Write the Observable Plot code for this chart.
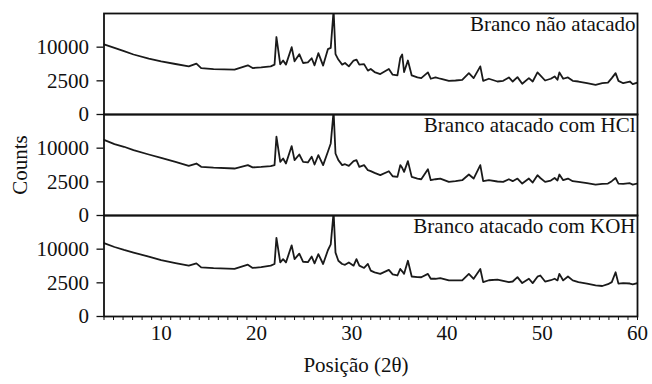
<!DOCTYPE html>
<html>
<head>
<meta charset="utf-8">
<script src="https://cdn.jsdelivr.net/npm/d3@7"></script>
<script src="https://cdn.jsdelivr.net/npm/@observablehq/plot@0.6"></script>
<style>
  html, body { margin: 0; padding: 0; background: #fff; }
  #chart { width: 652px; height: 384px; }
</style>
</head>
<body>
<div id="chart"></div>
<script>
const panels = ["Branco não atacado", "Branco atacado com HCl", "Branco atacado com KOH"];
const yTicks = [0, 2500, 10000];
const xTickLabels = [10, 20, 30, 40, 50, 60];
const yLabel = "Counts";
const xLabel = "Posição (2θ)";

const twoTheta = [
  4, 5.1, 6.1, 7.1, 8.7, 10, 11.5, 12.9, 13.7, 14.2,
  15.5, 17.7, 19.1, 19.6, 20.5, 21.5, 21.9, 22.1, 22.5, 22.8,
  23.1, 23.7, 24.0, 24.5, 24.9, 25.4, 25.8, 26.1, 26.5, 27.0,
  27.5, 27.8, 28.1, 28.3, 28.6, 29.0, 29.3, 29.7, 30.2, 30.5,
  30.8, 31.3, 31.7, 32.0, 32.4, 33.0, 33.9, 34.3, 34.8, 35.1,
  35.3, 35.5, 35.9, 36.3, 36.9, 37.3, 38.0, 38.3, 38.8, 39.3,
  40.2, 40.9, 41.6, 42.3, 42.8, 43.5, 43.8, 44.4, 45.3, 45.9,
  46.5, 46.9, 47.4, 47.9, 48.6, 49.0, 49.5, 49.8, 50.3, 50.9,
  51.3, 51.6, 51.8, 52.2, 52.7, 53.2, 53.8, 54.7, 55.6, 56.3,
  56.9, 57.3, 57.7, 58.0, 58.5, 59.2, 59.5, 60.0
];

const naoAtacado = [
  10840, 9800, 8840, 7940, 6900, 6250, 5625, 5120, 5720, 4760,
  4560, 4440, 5340, 4760, 4900, 5120, 5490, 13240, 5560, 6420,
  5490, 10000, 6250, 8020, 5850, 5990, 6980, 5340, 8290, 5270,
  9420, 9800, 24000, 8020, 6660, 5490, 5850, 5120, 6420, 6660,
  5490, 5600, 4240, 4560, 3970, 3600, 4560, 3490, 3370, 7060,
  7940, 3970, 6420, 3370, 3030, 2920, 3910, 2820, 3030, 2820,
  2500, 2550, 2660, 3780, 2920, 5120, 2500, 2820, 2400, 2500,
  3030, 2400, 3080, 2080, 2920, 2400, 3910, 3370, 2550, 2820,
  3200, 2660, 3910, 2820, 3030, 2500, 2400, 2160, 1940, 2160,
  2250, 2920, 3780, 2500, 2160, 2400, 2040, 2250
];

const atacadoHCl = [
  12600, 11250, 10420, 9440, 8210, 7340, 6350, 5440, 5960, 5220,
  5050, 4870, 5600, 5100, 5200, 5370, 5600, 13680, 6350, 7160,
  5960, 10630, 6760, 8210, 6350, 6200, 7600, 5730, 8040, 5600,
  8950, 11450, 24000, 8480, 6760, 5600, 5800, 5440, 6520, 6760,
  5220, 5600, 4530, 4330, 4000, 3590, 4330, 3400, 3290, 5600,
  5010, 4200, 6520, 3290, 3010, 2900, 4740, 2750, 2900, 3010,
  2490, 2600, 2750, 3700, 3010, 5600, 2600, 2750, 2550, 2490,
  2900, 2600, 3010, 2250, 3010, 2400, 3590, 3100, 2490, 2700,
  3100, 2700, 3700, 2750, 3010, 2600, 2490, 2300, 2100, 2200,
  2250, 2600, 3100, 2250, 2200, 2300, 2100, 2250
];

const atacadoKOH = [
  11900, 10650, 9770, 9010, 7930, 7020, 6300, 5700, 6220, 5330,
  5150, 4990, 5920, 5200, 5400, 5700, 6080, 13640, 6450, 7270,
  6450, 11170, 7270, 8730, 6610, 6500, 7930, 6220, 8570, 6080,
  9680, 11480, 24000, 9010, 6850, 6080, 5900, 6450, 5700, 7270,
  5700, 5200, 6080, 4650, 4300, 4010, 4790, 3900, 3710, 4990,
  4500, 4010, 6850, 3530, 3410, 3400, 4010, 3140, 3140, 3250,
  2870, 2870, 2870, 4010, 3140, 4990, 2610, 2900, 3000, 2800,
  2610, 2700, 3410, 2460, 3140, 2460, 3500, 3710, 2700, 2900,
  3140, 2870, 4010, 2870, 3530, 2870, 2610, 2400, 2140, 2050,
  2300, 2610, 4320, 2380, 2460, 2400, 2290, 2460
];

const series = [naoAtacado, atacadoHCl, atacadoKOH];
const rows = [];
series.forEach((s, i) => s.forEach((c, j) => rows.push({panel: panels[i], x: twoTheta[j], y: c})));

const font = "Liberation Serif, Times New Roman, serif";
const fs = 21;

const chart = Plot.plot({
  width: 652,
  height: 384,
  marginTop: 12.5,
  marginBottom: 67.5,
  marginLeft: 103.5,
  marginRight: 15,
  style: "font-family: 'Liberation Serif', 'Times New Roman', serif; font-size: 21px; color: #111; background: #fff;",
  x: {domain: [4, 60]},
  y: {type: "sqrt", domain: [0, 22500]},
  fy: {domain: panels, padding: 0, axis: null},
  marks: [
    Plot.line(rows, {x: "x", y: "y", fy: "panel", stroke: "#1a1a1a", strokeWidth: 1.8, clip: true}),
    Plot.frame({stroke: "#111", strokeWidth: 1.8}),
    Plot.axisY({ticks: yTicks, tickFormat: d => String(d), tickSize: 7, tickPadding: 8, label: null, fontSize: fs, fontFamily: font, strokeWidth: 1.3}),
    Plot.axisX({ticks: d3.range(4, 61), tickFormat: d => xTickLabels.includes(d) ? String(d) : "", tickSize: 4, tickPadding: 5, label: null, fontSize: fs, fontFamily: font, strokeWidth: 1}),
    Plot.text(panels, {fy: d => d, text: d => d, frameAnchor: "top-right", dx: -2, dy: 3, fontSize: fs, fontFamily: font, fill: "#111"})
  ]
});

const svg = d3.select(chart);
svg.append("text")
  .attr("transform", "translate(27,165) rotate(-90)")
  .attr("text-anchor", "middle")
  .style("font-size", fs + "px")
  .style("font-family", font)
  .attr("fill", "#111")
  .text(yLabel);
svg.append("text")
  .attr("x", 356)
  .attr("y", 372)
  .attr("text-anchor", "middle")
  .style("font-size", fs + "px")
  .style("font-family", font)
  .attr("fill", "#111")
  .text(xLabel);

document.getElementById("chart").appendChild(chart);
</script>
</body>
</html>
